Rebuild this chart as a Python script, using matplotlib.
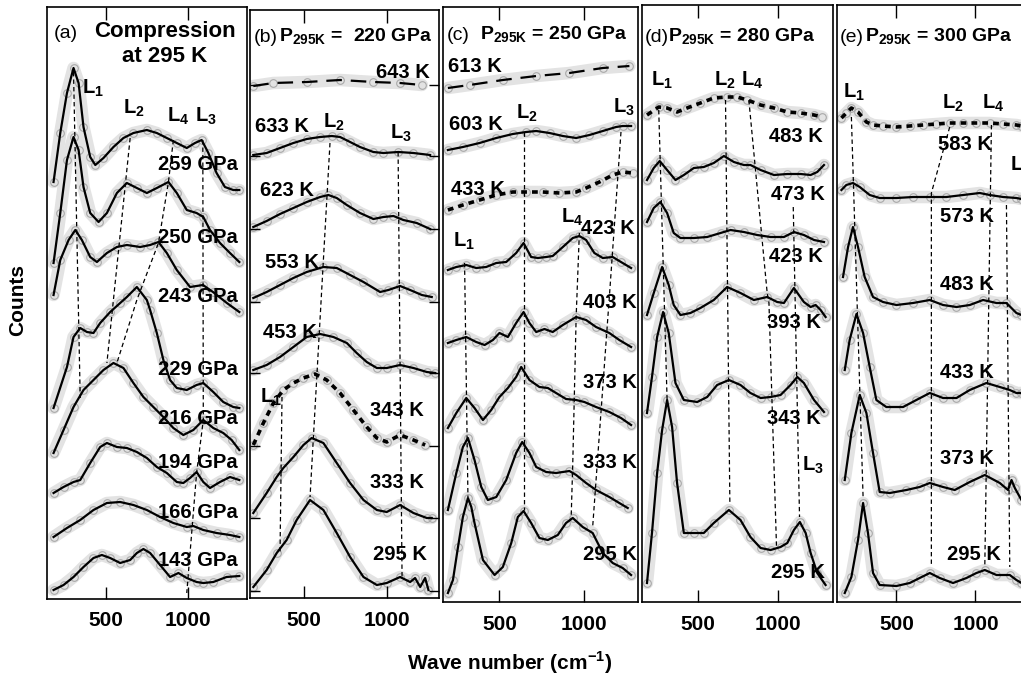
import matplotlib.pyplot as plt

plt.rcParams['font.family'] = ['Liberation Sans', 'DejaVu Sans']
plt.rcParams['mathtext.fontset'] = 'custom'
plt.rcParams['mathtext.rm'] = 'Liberation Sans'
plt.rcParams['mathtext.bf'] = 'Liberation Sans:bold'

# ---- panel (a): compression at 295 K, counts in arbitrary units ----
wn_a = [
    [180, 221, 262, 302, 333, 363, 404, 435, 485, 546, 607, 668, 750, 811, 872, 933, 994, 1044, 1085, 1126, 1176, 1227, 1278, 1315],
    [180, 221, 262, 302, 333, 363, 404, 455, 506, 567, 628, 689, 750, 811, 882, 933, 994, 1054, 1095, 1136, 1197, 1258, 1315],
    [180, 221, 272, 313, 353, 404, 445, 506, 567, 628, 709, 770, 821, 872, 933, 1014, 1093, 1154, 1239, 1315],
    [180, 262, 302, 343, 384, 424, 465, 526, 587, 628, 689, 750, 770, 811, 851, 892, 933, 994, 1054, 1095, 1156, 1217, 1278, 1315],
    [180, 241, 302, 363, 424, 485, 546, 607, 668, 729, 790, 851, 912, 973, 1034, 1095, 1156, 1217, 1268, 1315],
    [180, 241, 302, 343, 404, 465, 506, 567, 628, 689, 750, 811, 872, 933, 973, 1014, 1054, 1095, 1136, 1197, 1258, 1315],
    [180, 262, 343, 424, 506, 587, 668, 750, 831, 912, 994, 1034, 1095, 1176, 1258, 1315],
    [180, 241, 302, 363, 424, 475, 526, 587, 648, 689, 729, 770, 831, 892, 943, 994, 1054, 1095, 1156, 1237, 1315],
]
ct_a = [
    [420, 469, 509, 534, 519, 475, 445, 437, 444, 455, 464, 469, 472, 469, 464, 459, 454, 459, 462, 449, 429, 415, 412, 412],
    [339, 389, 442, 465, 452, 415, 389, 380, 389, 409, 419, 414, 409, 414, 420, 409, 392, 389, 385, 372, 359, 349, 340],
    [307, 342, 362, 372, 362, 345, 340, 349, 355, 357, 355, 357, 360, 349, 332, 315, 317, 310, 299, 290],
    [194, 235, 265, 274, 270, 269, 279, 290, 299, 305, 315, 302, 292, 269, 242, 222, 214, 212, 217, 219, 210, 200, 195, 194],
    [149, 172, 195, 212, 222, 232, 239, 234, 219, 205, 195, 185, 174, 167, 172, 182, 174, 169, 162, 152],
    [109, 115, 120, 122, 139, 155, 159, 155, 154, 150, 144, 135, 129, 120, 119, 124, 130, 120, 114, 120, 125, 122],
    [65, 74, 82, 92, 99, 100, 97, 92, 85, 79, 75, 76, 72, 69, 67, 65],
    [12, 17, 25, 35, 44, 47, 44, 39, 42, 49, 53, 49, 37, 25, 29, 24, 20, 19, 20, 25, 26],
]
style_a = ['-'] * 8
labels_a = ['259 GPa', '250 GPa', '243 GPa', '229 GPa', '216 GPa', '194 GPa', '166 GPa', '143 GPa']
guide_wn_a = [[302, 343], [648, 506], [912, 882, 821, 689, 567], [1092, 1095, 1054, 994]]
guide_ct_a = [[530, 204], [464, 239], [462, 420, 359, 302, 239], [462, 182, 129, 9]]

# ---- panel (b): 220 GPa ----
wn_b = [
    [191, 313, 515, 717, 919, 1081, 1213],
    [191, 272, 353, 434, 515, 596, 667, 717, 778, 838, 919, 980, 1071, 1162, 1263],
    [191, 272, 353, 434, 515, 596, 646, 697, 758, 838, 919, 980, 1041, 1101, 1182, 1263],
    [191, 272, 353, 434, 515, 616, 697, 778, 859, 960, 1010, 1081, 1142, 1213, 1273],
    [191, 272, 353, 434, 515, 596, 677, 758, 818, 879, 940, 1000, 1081, 1162, 1243, 1294],
    [191, 252, 313, 373, 434, 495, 565, 636, 717, 798, 879, 940, 1000, 1081, 1162, 1233],
    [191, 272, 333, 373, 434, 495, 545, 616, 697, 778, 859, 940, 1000, 1081, 1162, 1243, 1273],
    [191, 272, 333, 393, 454, 535, 616, 697, 778, 859, 940, 1000, 1081, 1142, 1172, 1203, 1233, 1253],
]
ct_b = [
    [516, 519, 520, 522, 520, 519, 517],
    [447, 449, 454, 459, 463, 465, 466, 465, 460, 455, 450, 449, 450, 449, 447],
    [375, 381, 388, 394, 400, 405, 407, 404, 397, 389, 383, 385, 386, 382, 379, 373],
    [304, 310, 317, 324, 330, 335, 334, 327, 320, 310, 312, 316, 312, 307, 305],
    [232, 237, 245, 255, 265, 268, 265, 259, 249, 240, 234, 234, 237, 234, 230, 229],
    [157, 179, 199, 212, 219, 224, 228, 222, 209, 192, 175, 164, 160, 167, 162, 157],
    [89, 109, 125, 134, 145, 157, 164, 159, 139, 119, 102, 92, 90, 97, 89, 84, 84],
    [15, 32, 49, 62, 82, 102, 92, 69, 45, 25, 17, 19, 25, 20, 24, 15, 24, 12],
]
style_b = ['--', '-', '-', '-', '-', ':', '-', '-']
labels_b = ['643 K', '633 K', '623 K', '553 K', '453 K', '343 K', '333 K', '295 K']
baselines_b = [517, 446, 373, 300, 229, 156, 84, 11]
guide_wn_b = [[656, 535], [1069, 1093], [365, 353]]
guide_ct_b = [[459, 105], [450, 25], [205, 49]]

# ---- panel (c): 250 GPa ----
wn_c = [
    [194, 323, 520, 718, 915, 1113, 1271],
    [194, 283, 382, 481, 579, 658, 718, 797, 876, 955, 1034, 1113, 1192, 1231, 1281],
    [194, 283, 382, 481, 579, 658, 757, 856, 955, 1014, 1093, 1172, 1231, 1290],
    [194, 244, 303, 362, 421, 481, 540, 599, 643, 688, 728, 777, 816, 876, 935, 974, 1014, 1063, 1113, 1172, 1221, 1281],
    [194, 244, 303, 362, 412, 461, 500, 550, 599, 643, 678, 718, 767, 816, 876, 955, 1014, 1073, 1152, 1211, 1281],
    [194, 244, 303, 352, 402, 451, 500, 550, 599, 629, 678, 737, 787, 836, 895, 955, 1004, 1073, 1152, 1221, 1281],
    [194, 244, 283, 313, 352, 392, 431, 481, 540, 599, 635, 678, 718, 777, 836, 915, 955, 1014, 1073, 1152, 1211, 1261],
    [194, 224, 254, 283, 313, 333, 352, 402, 471, 520, 570, 609, 643, 688, 737, 787, 846, 895, 935, 994, 1053, 1113, 1172, 1231, 1281],
]
ct_c = [
    [514, 517, 522, 526, 529, 534, 536],
    [452, 455, 459, 464, 468, 470, 471, 469, 466, 464, 467, 471, 475, 476, 476],
    [392, 397, 402, 407, 410, 410, 410, 409, 410, 414, 420, 427, 430, 429],
    [332, 335, 337, 334, 335, 339, 340, 349, 359, 345, 344, 345, 346, 355, 364, 366, 362, 349, 344, 345, 340, 334],
    [259, 262, 265, 260, 257, 262, 269, 265, 279, 290, 279, 270, 273, 270, 277, 285, 282, 275, 269, 262, 255],
    [174, 189, 204, 194, 182, 192, 205, 214, 225, 235, 222, 215, 214, 209, 203, 202, 200, 195, 190, 184, 177],
    [92, 129, 155, 164, 142, 115, 102, 105, 122, 149, 160, 149, 135, 130, 129, 131, 127, 119, 112, 105, 99, 94],
    [9, 22, 55, 85, 104, 95, 79, 42, 27, 35, 59, 85, 91, 79, 64, 62, 67, 79, 84, 75, 69, 49, 39, 34, 27],
]
style_c = ['--', '-', ':', '-', '-', '-', '-', '-']
labels_c = ['613 K', '603 K', '433 K', '423 K', '403 K', '373 K', '333 K', '295 K']
guide_wn_c = [[293, 313], [643, 643], [1221, 1152, 1142, 1053], [974, 955, 935, 925]]
guide_ct_c = [[339, 105], [470, 92], [470, 305, 282, 75], [369, 285, 139, 82]]

# ---- panel (d): 280 GPa ----
wn_d = [
    [184, 257, 309, 371, 433, 516, 599, 682, 744, 807, 890, 973, 1056, 1139, 1222, 1273],
    [184, 226, 263, 309, 361, 413, 475, 537, 599, 662, 724, 786, 827, 890, 973, 1056, 1139, 1201, 1242, 1284],
    [184, 226, 267, 309, 350, 392, 475, 558, 641, 703, 786, 869, 952, 1035, 1097, 1159, 1222, 1284],
    [184, 226, 278, 319, 350, 392, 454, 516, 599, 682, 765, 848, 931, 993, 1035, 1097, 1159, 1201, 1232, 1263, 1294],
    [184, 215, 247, 284, 319, 361, 413, 496, 558, 620, 693, 765, 827, 890, 952, 1014, 1076, 1118, 1159, 1222, 1284],
    [184, 215, 247, 278, 309, 340, 371, 413, 475, 537, 599, 693, 765, 827, 890, 952, 1014, 1056, 1097, 1134, 1170, 1201, 1242, 1294],
]
ct_d = [
    [487, 495, 494, 490, 494, 499, 504, 505, 505, 502, 497, 494, 490, 489, 487, 485],
    [422, 434, 441, 432, 422, 427, 434, 435, 439, 446, 440, 437, 437, 432, 427, 428, 428, 427, 430, 437],
    [380, 394, 400, 389, 369, 364, 364, 365, 369, 372, 370, 367, 365, 365, 370, 367, 362, 360],
    [287, 309, 335, 317, 297, 287, 289, 294, 302, 315, 309, 302, 305, 300, 299, 314, 300, 295, 297, 292, 285],
    [189, 225, 265, 290, 269, 219, 202, 200, 205, 217, 222, 217, 209, 204, 205, 207, 217, 225, 219, 202, 190],
    [19, 69, 129, 172, 202, 175, 119, 69, 69, 69, 79, 92, 82, 65, 54, 52, 55, 59, 72, 80, 69, 49, 29, 17],
]
style_d = [':', '-', '-', '-', '-', '-']
labels_d = ['483 K', '473 K', '423 K', '393 K', '343 K', '295 K']
guide_wn_d = [[257, 309], [672, 699], [817, 931, 942, 989], [1093, 1132]]
guide_ct_d = [[492, 202], [502, 99], [502, 309, 299, 55], [395, 85]]

# ---- panel (e): 300 GPa ----
wn_e = [
    [152, 183, 215, 257, 310, 352, 415, 500, 584, 669, 753, 837, 922, 1006, 1090, 1175, 1259, 1291],
    [152, 183, 225, 268, 331, 394, 500, 605, 711, 816, 922, 1027, 1090, 1175, 1259, 1291],
    [162, 194, 225, 257, 299, 352, 415, 500, 605, 711, 795, 880, 964, 1048, 1133, 1196, 1259, 1291],
    [173, 204, 247, 289, 331, 373, 436, 542, 626, 711, 795, 880, 964, 1069, 1154, 1217, 1259, 1291],
    [173, 215, 268, 310, 352, 394, 458, 563, 647, 711, 795, 869, 964, 1059, 1154, 1206, 1228, 1249, 1291],
    [173, 215, 257, 289, 320, 352, 394, 500, 584, 647, 711, 774, 858, 943, 1006, 1059, 1133, 1217, 1259, 1291],
]
ct_e = [
    [484, 489, 494, 490, 480, 477, 476, 475, 476, 477, 478, 479, 479, 479, 479, 478, 477, 476],
    [412, 417, 419, 415, 407, 404, 404, 405, 405, 405, 407, 409, 407, 405, 404, 403],
    [325, 355, 375, 355, 325, 305, 300, 297, 299, 302, 297, 295, 297, 302, 299, 299, 289, 287],
    [232, 262, 288, 269, 235, 202, 195, 195, 202, 209, 204, 204, 212, 219, 215, 212, 209, 209],
    [122, 169, 207, 189, 149, 110, 109, 112, 115, 119, 115, 112, 120, 127, 119, 112, 122, 114, 102],
    [9, 25, 62, 99, 69, 29, 17, 16, 19, 24, 29, 24, 19, 24, 29, 32, 27, 27, 22, 19],
]
style_e = [':', '-', '-', '-', '-', '-']
labels_e = ['583 K', '573 K', '483 K', '433 K', '373 K', '295 K']
guide_wn_e = [[215, 289], [837, 721, 721], [1101, 1059], [1196, 1217]]
guide_ct_e = [[485, 105], [475, 409, 35], [477, 35], [397, 35]]

W, H = 1021, 683
fig = plt.figure(figsize=(W / 100, H / 100), dpi=100)


def px_axes(x0, y0, x1, y1):
    return fig.add_axes([x0 / W, 1 - y1 / H, (x1 - x0) / W, (y1 - y0) / H])


def txt(x, y, s, ha='left', weight='bold', size=14.5, **kw):
    fig.text(x / W, 1 - y / H, s, ha=ha, va='center', fontsize=size,
             fontweight=weight, **kw)


panels = [
    (px_axes(47, 7, 247, 599), (140, 1362), (3, 595), wn_a, ct_a, style_a, guide_wn_a, guide_ct_a),
    (px_axes(250, 10, 439, 598), (171, 1317), (4, 592), wn_b, ct_b, style_b, guide_wn_b, guide_ct_b),
    (px_axes(443, 7, 638, 602), (165, 1322), (0, 595), wn_c, ct_c, style_c, guide_wn_c, guide_ct_c),
    (px_axes(642, 5, 833, 602), (153, 1340), (0, 597), wn_d, ct_d, style_d, guide_wn_d, guide_ct_d),
    (px_axes(837, 5, 1033, 602), (124, 1364), (0, 597), wn_e, ct_e, style_e, guide_wn_e, guide_ct_e),
]

for ax, xl, yl, wns, cts, styles, gwn, gct in panels:
    for wn, ct, st in zip(wns, cts, styles):
        # light band standing in for the scattered raw points
        ax.plot(wn, ct, color='#e3e3e3', lw=9, solid_capstyle='round',
                solid_joinstyle='round', zorder=0.5)
        ax.plot(wn, ct, ls='none', marker='o', ms=5.5, mfc='none',
                mec='#a9a9a9', mew=0.8, zorder=1)
        if st == '--':
            ax.plot(wn, ct, color='k', lw=1.6, dashes=(7, 4), zorder=3)
        elif st == ':':
            ax.plot(wn, ct, color='k', lw=2.6, dashes=(1.6, 1.4), zorder=3)
        else:
            ax.plot(wn, ct, color='k', lw=1.6, solid_joinstyle='round', zorder=3)
    for gx, gy in zip(gwn, gct):
        ax.plot(gx, gy, color='k', lw=0.9, dashes=(3.5, 2.5), zorder=2)
    ax.set_xlim(*xl)
    ax.set_ylim(*yl)
    ax.set_xticks([500, 1000])
    ax.set_xticklabels(['500', '1000'], fontsize=15, fontweight='bold')
    ax.tick_params(axis='x', direction='in', length=9, width=1, top=True, pad=9)
    ax.set_yticks([])
    for s in ax.spines.values():
        s.set_linewidth(1.2)

ax_b = panels[1][0]
ax_b.set_yticks(baselines_b)
ax_b.set_yticklabels([])
ax_b.tick_params(axis='y', direction='in', length=7, width=1, left=True, right=True)

# panel (a) texts
txt(54, 33, '(a)', weight='normal', size=14)
txt(165, 32, 'Compression', ha='center', size=16)
txt(165, 56, 'at 295 K', ha='center', size=16)
txt(82, 88, r'L$_\mathbf{1}$')
txt(123, 108, r'L$_\mathbf{2}$')
txt(167, 116, r'L$_\mathbf{4}$')
txt(195, 116, r'L$_\mathbf{3}$')
for y, s in zip([165, 238, 297, 369, 418, 462, 513, 560], labels_a):
    txt(238, y, s, ha='right')

# panel (b) texts
txt(254, 37, '(b)', weight='normal', size=14)
txt(279, 37, r'P$_\mathbf{295K}$ =  220 GPa', size=14)
txt(323, 122, r'L$_\mathbf{2}$')
txt(390, 133, r'L$_\mathbf{3}$')
txt(260, 397, r'L$_\mathbf{1}$')
for (x, y), s in zip([(376, 72), (255, 127), (260, 191), (265, 263), (263, 332),
                      (370, 411), (370, 482), (373, 555)], labels_b):
    txt(x, y, s)

# panel (c) texts
txt(447, 35, '(c)', weight='normal', size=14)
txt(480, 35, r'P$_\mathbf{295K}$ = 250 GPa', size=14)
txt(516, 113, r'L$_\mathbf{2}$')
txt(613, 107, r'L$_\mathbf{3}$')
txt(561, 217, r'L$_\mathbf{4}$')
txt(453, 241, r'L$_\mathbf{1}$')
for (x, y), s in zip([(448, 66), (449, 125), (451, 190), (581, 228), (583, 303),
                      (583, 383), (583, 462), (583, 555)], labels_c):
    txt(x, y, s)

# panel (d) texts
txt(645, 37, '(d)', weight='normal', size=14)
txt(668, 37, r'P$_\mathbf{295K}$ = 280 GPa', size=14)
txt(651, 80, r'L$_\mathbf{1}$')
txt(714, 80, r'L$_\mathbf{2}$')
txt(741, 80, r'L$_\mathbf{4}$')
txt(802, 465, r'L$_\mathbf{3}$')
for (x, y), s in zip([(769, 136), (771, 194), (769, 256), (767, 322), (767, 418),
                      (771, 572)], labels_d):
    txt(x, y, s)

# panel (e) texts
txt(840, 37, '(e)', weight='normal', size=14)
txt(865, 37, r'P$_\mathbf{295K}$ = 300 GPa', size=14)
txt(843, 92, r'L$_\mathbf{1}$')
txt(942, 103, r'L$_\mathbf{2}$')
txt(982, 103, r'L$_\mathbf{4}$')
txt(1010, 165, r'L$_\mathbf{3}$')
for (x, y), s in zip([(938, 145), (940, 216), (940, 285), (940, 372), (940, 458),
                      (947, 555)], labels_e):
    txt(x, y, s)

txt(510, 663, r'Wave number (cm$^\mathbf{-1}$)', ha='center', size=15)
fig.text(18 / W, 1 - 300 / H, 'Counts', rotation=90, ha='center', va='center',
         fontsize=15, fontweight='bold')

fig.savefig('out.png', dpi=100)
